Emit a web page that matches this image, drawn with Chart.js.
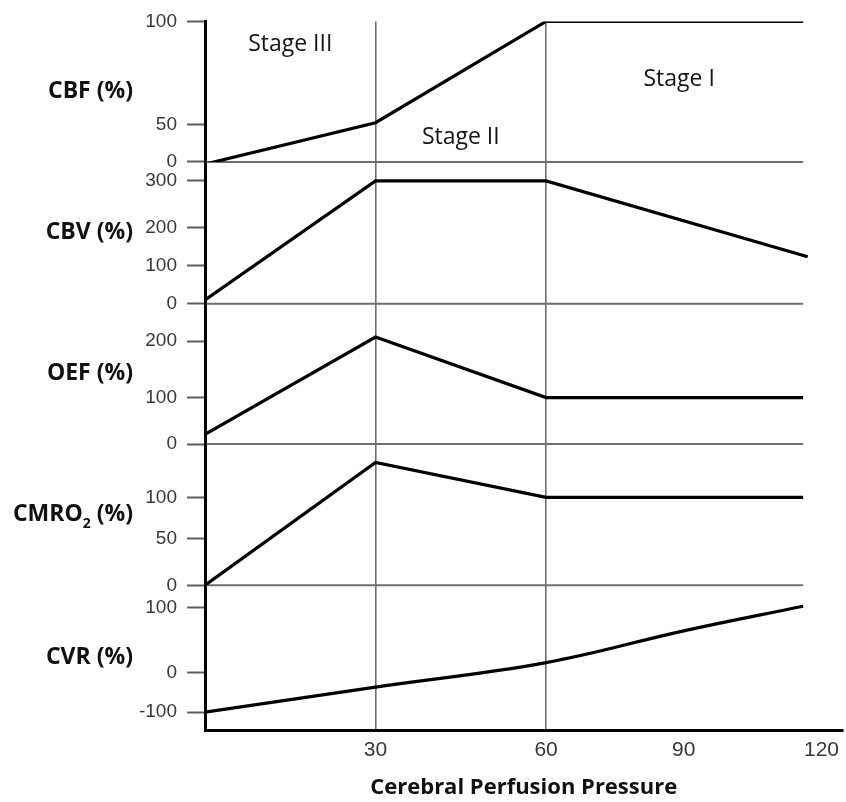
<!DOCTYPE html>
<html>
<head>
<meta charset="utf-8">
<script src="https://cdn.jsdelivr.net/npm/chart.js@4.4.1/dist/chart.umd.min.js"></script>
<style>
  html, body { margin: 0; padding: 0; background: #ffffff; }
  canvas { display: block; }
</style>
</head>
<body>
<canvas id="stages" width="846" height="802"></canvas>
<script>
// Haemodynamic response to falling cerebral perfusion pressure, five stacked panels.
const pressure     = [0, 30, 60, 116];
const cbvPressure  = [0, 30, 60, 117];
const cvrPressure  = [0, 30, 60, 90, 116];

const cbf   = [-3, 51, 100, 100];
const cbv   = [10, 300, 300, 123];
const oef   = [21, 207, 100, 100];
const cmro2 = [0, 142, 100, 100];
const cvr   = [-100, -37, 15, 64, 102];

const xTicks     = [30, 60, 90, 120];
const cbfTicks   = [0, 50, 100];
const cbvTicks   = [0, 100, 200, 300];
const oefTicks   = [0, 100, 200];
const cmro2Ticks = [0, 50, 100];
const cvrTicks   = [-100, 0, 100];

const panelTitles = ['CBF (%)', 'CBV (%)', 'OEF (%)', 'CMRO\u2082 (%)', 'CVR (%)'];
const stageNames  = ['Stage III', 'Stage II', 'Stage I'];
const xTitle      = 'Cerebral Perfusion Pressure';

// Linear scale whose value-to-pixel mapping is piecewise linear between knots
// ([value, fraction of the axis length]), so uneven tick spacing is kept.
class PiecewiseScale extends Chart.LinearScale {
  static id = 'piecewise';
  buildTicks() {
    return this.options.tickValues.map(v => ({ value: v }));
  }
  _toDecimal(v) {
    const k = this.options.knots;
    for (let i = 1; i < k.length; i++) {
      if (v <= k[i][0] || i === k.length - 1) {
        const [v0, f0] = k[i - 1];
        const [v1, f1] = k[i];
        return f0 + (v - v0) / (v1 - v0) * (f1 - f0);
      }
    }
    return 0;
  }
  _fromDecimal(d) {
    const k = this.options.knots;
    for (let i = 1; i < k.length; i++) {
      if (d <= k[i][1] || i === k.length - 1) {
        const [v0, f0] = k[i - 1];
        const [v1, f1] = k[i];
        return v0 + (d - f0) / (f1 - f0) * (v1 - v0);
      }
    }
    return 0;
  }
  getPixelForValue(v) {
    return (v === null || v === undefined) ? NaN : this.getPixelForDecimal(this._toDecimal(v));
  }
  getValueForPixel(p) {
    return this._fromDecimal(this.getDecimalForPixel(p));
  }
}
Chart.register(PiecewiseScale);

const tickFont = { family: '"Liberation Sans", Arial, sans-serif', size: 19 };

function panelAxis(knots, tickValues, weight) {
  return {
    type: 'piecewise',
    position: 'left',
    stack: 'panels',
    stackWeight: weight,
    min: knots[0][0],
    max: knots[knots.length - 1][0],
    knots: knots,
    tickValues: tickValues,
    border: { display: true, color: '#000000', width: 3 },
    grid: { drawOnChartArea: false, drawTicks: true, tickLength: 18, tickColor: '#5c5c5c', tickWidth: 2 },
    ticks: { autoSkip: false, padding: 10, color: '#383838', font: tickFont, callback: v => String(v) },
    afterFit: s => { s.width = 205; }
  };
}

const series = (xs, ys) => xs.map((x, i) => ({ x: x, y: ys[i] }));
const lineStyle = { borderColor: '#000000', borderWidth: 3.2, pointRadius: 0, fill: false, tension: 0, borderJoinStyle: 'miter' };

// Horizontal rules at the base of each upper panel, ending with the curves.
const panelRules = {
  id: 'panelRules',
  beforeDatasetsDraw(chart) {
    const { ctx, chartArea, scales } = chart;
    const xEnd = scales.x.getPixelForValue(pressure[pressure.length - 1]);
    ctx.save();
    ctx.strokeStyle = '#6e6e6e';
    ctx.lineWidth = 2;
    ['cbf', 'cbv', 'oef', 'cmro2'].forEach(id => {
      const y = scales[id].getPixelForValue(0);
      ctx.beginPath();
      ctx.moveTo(chartArea.left + 1.5, y);
      ctx.lineTo(xEnd, y);
      ctx.stroke();
    });
    ctx.restore();
  }
};

// Bold panel names beside each axis, with a subscript for CMRO2.
const panelNames = {
  id: 'panelNames',
  afterDraw(chart) {
    const { ctx, chartArea, scales } = chart;
    const ids = ['cbf', 'cbv', 'oef', 'cmro2', 'cvr'];
    const big = 'bold 23px "Open Sans", sans-serif';
    const small = 'bold 14px "Open Sans", sans-serif';
    const right = chartArea.left - 72;
    ctx.save();
    ctx.fillStyle = '#111111';
    ctx.textBaseline = 'middle';
    ctx.textAlign = 'left';
    ids.forEach((id, i) => {
      const s = scales[id];
      const y = (s.top + s.bottom) / 2;
      const parts = panelTitles[i].split('\u2082');
      if (parts.length === 2) {
        ctx.font = big;
        const w0 = ctx.measureText(parts[0]).width;
        const w2 = ctx.measureText(parts[1]).width;
        ctx.font = small;
        const w1 = ctx.measureText('2').width;
        let x = right - (w0 + w1 + w2);
        ctx.font = big;
        ctx.fillText(parts[0], x, y);
        x += w0;
        ctx.font = small;
        ctx.fillText('2', x, y + 9);
        x += w1;
        ctx.font = big;
        ctx.fillText(parts[1], x, y);
      } else {
        ctx.font = big;
        ctx.textAlign = 'right';
        ctx.fillText(panelTitles[i], right, y);
        ctx.textAlign = 'left';
      }
    });
    ctx.restore();
  }
};

// Stage names placed in the CBF panel at pressure / CBF coordinates.
const stageLabels = {
  id: 'stageLabels',
  afterDraw(chart, args, opts) {
    const { ctx, scales } = chart;
    ctx.save();
    ctx.font = '23px "Open Sans", sans-serif';
    ctx.fillStyle = '#141414';
    ctx.textAlign = 'center';
    ctx.textBaseline = 'middle';
    opts.anchors.forEach((a, i) => {
      ctx.fillText(stageNames[i], scales.x.getPixelForValue(a[0]), scales.cbf.getPixelForValue(a[1]));
    });
    ctx.restore();
  }
};

new Chart(document.getElementById('stages'), {
  type: 'line',
  data: {
    datasets: [
      Object.assign({ label: 'CBF', data: series(pressure, cbf), yAxisID: 'cbf' }, lineStyle),
      Object.assign({ label: 'CBV', data: series(cbvPressure, cbv), yAxisID: 'cbv' }, lineStyle),
      Object.assign({ label: 'OEF', data: series(pressure, oef), yAxisID: 'oef' }, lineStyle),
      Object.assign({ label: 'CMRO2', data: series(pressure, cmro2), yAxisID: 'cmro2' }, lineStyle),
      Object.assign({ label: 'CVR', data: series(cvrPressure, cvr), yAxisID: 'cvr' }, lineStyle,
        { tension: 0.4 })
    ]
  },
  options: {
    responsive: false,
    animation: false,
    events: [],
    layout: { padding: { top: 19, right: 0, bottom: 0, left: 0 } },
    plugins: {
      legend: { display: false },
      tooltip: { enabled: false },
      stageLabels: { anchors: [[15, 89], [45, 33], [89, 72]] }
    },
    scales: {
      x: {
        type: 'piecewise',
        position: 'bottom',
        min: 0,
        max: 124.55,
        knots: [[0, 0], [60, 0.5351], [120, 0.9672], [124.55, 1]],
        tickValues: xTicks,
        border: { display: true, color: '#000000', width: 3 },
        grid: {
          drawTicks: false,
          lineWidth: 1.6,
          color: c => (c.tick && (c.tick.value === 30 || c.tick.value === 60)) ? '#6e6e6e' : 'rgba(0,0,0,0)'
        },
        ticks: { autoSkip: false, maxRotation: 0, padding: 7, color: '#383838',
                 font: { family: '"Liberation Sans", Arial, sans-serif', size: 21 }, callback: v => String(v) },
        title: { display: true, text: xTitle, color: '#111111', padding: { top: 0, bottom: 1 },
                 font: { family: '"Open Sans", sans-serif', size: 22, weight: 'bold' } },
        afterFit: s => { s.height = 71.5; }
      },
      cvr:   panelAxis([[-146, 0], [-100, 0.126], [0, 0.401], [100, 0.847], [134, 1]], cvrTicks, 145.7),
      cmro2: panelAxis([[0, 0], [50, 0.330], [100, 0.623], [164, 1]], cmro2Ticks, 141.7),
      oef:   panelAxis([[0, 0], [100, 0.331], [200, 0.734], [266, 1]], oefTicks, 140.8),
      cbv:   panelAxis([[0, 0], [100, 0.269], [200, 0.538], [300, 0.866], [341, 1]], cbvTicks, 142.3),
      cbf:   panelAxis([[0, 0], [50, 0.2645], [100, 1]], cbfTicks, 141)
    }
  },
  plugins: [panelRules, panelNames, stageLabels]
});
</script>
</body>
</html>
